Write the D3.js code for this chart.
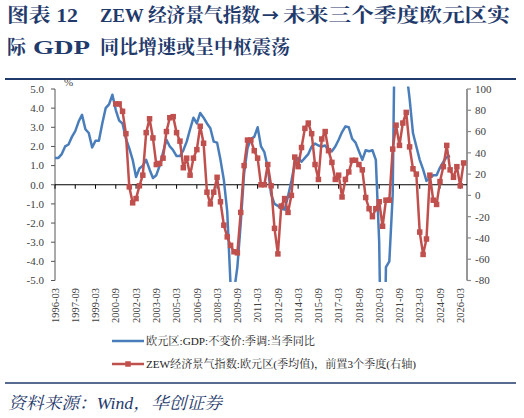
<!DOCTYPE html>
<html><head><meta charset="utf-8">
<script src="https://cdn.jsdelivr.net/npm/d3@7"></script>
<style>body{margin:0;background:#fff}svg{display:block}</style>
</head><body>
<svg id="c" width="524" height="418"></svg>
<script>
// ---- data ----
const axisStart = "1996-03";
const axisEnd = "2026-09";
const gdpStart = "1996-03";
const zewStart = "2000-09";
const gdpValues = [
 1.4,1.4,1.6,2.0, 2.1,2.5,2.8,3.3, 3.65,2.9,2.7,1.95, 2.3,2.3,3.2,4.0,
 4.2,4.7,3.9,3.35, 3.2,2.4,1.9,1.3, 0.4,0.85,1.0,1.3, 0.8,0.35,0.5,1.0,
 1.7,2.35,2.0,1.8, 1.5,1.5,1.8,2.25, 2.9,3.5,3.2,3.75, 3.5,3.2,2.95,2.25,
 2.2,1.3,0.25,-1.4, -5.3,-5.6,-4.3,-2.0, 0.6,1.9,2.4,2.5, 3.0,2.0,1.7,0.9,
 -0.5,-1.0,-1.1,-1.25, -1.3,-0.6,0.2,1.1, 1.4,1.2,1.4,1.6, 2.0,2.15,2.05,2.0,
 2.05,1.8,1.75,2.0, 2.35,2.75,3.05,3.0, 2.4,2.2,1.75,1.3, 1.8,1.75,1.8,1.3,
 -3.0,-14.5,-4.3,-4.0, -0.5,14.0,9.0,7.0, 6.0,4.5,2.7,2.0, 1.3,0.8,0.2,0.35,
 0.5,0.5,0.9,1.2, 1.45,1.5
];
const zewValues = [
 86,86, 79,58,8,-7, -3,9,19,59, 72,54,29,30, 35,60,73,74, 59,51,26,35,
 19,35,43,65, 49,3,-8,3, 17,-6,-28,-39, -47,-53,-54,-16, 28,52,52,42,
 35,10,10,29, 9,-31,-55,-10, -3,-16,0,36, 27,45,63,68, 58,29,15,53,
 60,42,31,15, 19,-1.5,15,22, 33,33,29,24, -2,-12.5,-20,-12.5, -6,-29,-4.5,-4.5,
 43.5,66,47,68, 78,45.6,25,20, -34.5,-55.5,-41,19, -4.5,-8.5,13,27, 47,24,17,27,
 9,30.5
];
const xTickLabels = ["1996-03","1997-09","1999-03","2000-09","2002-03","2003-09","2005-03",
 "2006-09","2008-03","2009-09","2011-03","2012-09","2014-03","2015-09","2017-03","2018-09",
 "2020-03","2021-09","2023-03","2024-09","2026-03"];
const leftTicks = [5,4,3,2,1,0,-1,-2,-3,-4,-5];
const rightTicks = [100,80,60,40,20,0,-20,-40,-60,-80];
const legendLabels = ["欧元区:GDP:不变价:季调:当季同比","ZEW经济景气指数:欧元区(季均值)，前置3个季度(右轴)"];
const titleParts = ["图表 12","ZEW 经济景气指数","→","未来三个季度欧元区实","际","GDP","同比增速或呈中枢震荡"];
const sourceText = "资料来源：Wind，华创证券";

// ---- helpers ----
const qIndex = s => { const [y,m] = s.split("-").map(Number); return (y-1996)*4 + (m/3-1); };
const navy = "#1f3a6b", blue = "#4a7ebb", red = "#c0504d";
const serif = "'Liberation Serif','Times New Roman','Noto Serif CJK SC','Noto Sans CJK SC',serif";

const svg = d3.select("#c");
const L = 55, R = 467, T = 89, B = 280.5;
const x = d3.scaleLinear().domain([qIndex(axisStart), qIndex(axisEnd)]).range([L, R]);
const yL = d3.scaleLinear().domain([-5,5]).range([B, T]);
const yR = d3.scaleLinear().domain([-80,100]).range([B, T]);

// ---- title ----
const tt = svg.append("g").attr("fill", navy).attr("font-family", serif).attr("font-weight","bold").attr("font-size",19);
tt.append("text").attr("x",7).attr("y",22).attr("textLength",71).attr("lengthAdjust","spacingAndGlyphs").text(titleParts[0]);
tt.append("text").attr("x",100).attr("y",22).attr("textLength",160).attr("lengthAdjust","spacingAndGlyphs").text(titleParts[1]);
tt.append("text").attr("x",262).attr("y",22).attr("font-family","'Noto Sans CJK SC',sans-serif").attr("font-size",17).text(titleParts[2]);
tt.append("text").attr("x",283).attr("y",22).attr("textLength",227).attr("lengthAdjust","spacingAndGlyphs").text(titleParts[3]);
tt.append("text").attr("x",7).attr("y",54).text(titleParts[4]);
tt.append("text").attr("x",33).attr("y",54).attr("textLength",57).attr("lengthAdjust","spacingAndGlyphs").text(titleParts[5]);
tt.append("text").attr("x",100).attr("y",54).attr("textLength",190).attr("lengthAdjust","spacingAndGlyphs").text(titleParts[6]);
svg.append("line").attr("x1",5).attr("x2",516).attr("y1",79).attr("y2",79).attr("stroke",navy).attr("stroke-width",2);

// ---- axes ----
const axisCol = "#404040";
svg.append("line").attr("x1",L).attr("x2",L).attr("y1",T).attr("y2",B).attr("stroke","#555").attr("stroke-width",1);
const lg = svg.append("g").attr("font-family",serif).attr("font-size",11).attr("fill",axisCol);
leftTicks.forEach(v => {
  svg.append("line").attr("x1",L-4).attr("x2",L).attr("y1",yL(v)).attr("y2",yL(v)).attr("stroke","#555");
  lg.append("text").attr("x",44).attr("y",yL(v)).attr("dy","0.35em").attr("text-anchor","end").text(v.toFixed(1));
});
lg.append("text").attr("x",64).attr("y",86).text("%");
svg.append("line").attr("x1",R).attr("x2",R).attr("y1",T).attr("y2",B).attr("stroke","#8c8c8c").attr("stroke-width",1.8);
rightTicks.forEach(v => {
  svg.append("line").attr("x1",R).attr("x2",R+4).attr("y1",yR(v)).attr("y2",yR(v)).attr("stroke","#8c8c8c").attr("stroke-width",1.2);
  lg.append("text").attr("x",475).attr("y",yR(v)).attr("dy","0.35em").attr("text-anchor","start").text(v);
});
const y0 = yL(0);
svg.append("line").attr("x1",L).attr("x2",R).attr("y1",y0).attr("y2",y0).attr("stroke","#000").attr("stroke-width",1);
xTickLabels.forEach(s => {
  const xx = x(qIndex(s));
  svg.append("line").attr("x1",xx).attr("x2",xx).attr("y1",y0).attr("y2",y0+4).attr("stroke","#000");
  lg.append("text").attr("transform",`translate(${xx},288) rotate(-90)`).attr("dy","0.35em")
    .attr("text-anchor","end").attr("font-size",10.5).text(s);
});

// ---- series ----
svg.append("clipPath").attr("id","clip").append("rect").attr("x",L).attr("y",T-2.5).attr("width",R-L).attr("height",B-T+4);
const g0 = qIndex(gdpStart), z0 = qIndex(zewStart);
const gdpLine = d3.line().x((d,i)=>x(g0+i)).y(d=>yL(d));
svg.append("path").attr("clip-path","url(#clip)").attr("d",gdpLine(gdpValues))
  .attr("fill","none").attr("stroke",blue).attr("stroke-width",2.5).attr("stroke-linejoin","round");
const zewLine = d3.line().x((d,i)=>x(z0+i)).y(d=>yR(d));
svg.append("path").attr("d",zewLine(zewValues)).attr("fill","none").attr("stroke",red).attr("stroke-width",2.5).attr("stroke-linejoin","round");
const ms = 5.5;
svg.append("g").selectAll("rect").data(zewValues).join("rect")
  .attr("x",(d,i)=>x(z0+i)-ms/2).attr("y",d=>yR(d)-ms/2).attr("width",ms).attr("height",ms).attr("fill",red);

// ---- legend ----
const leg = svg.append("g").attr("font-family",serif).attr("font-size",11).attr("fill","#222");
leg.append("line").attr("x1",112).attr("x2",144).attr("y1",341).attr("y2",341).attr("stroke",blue).attr("stroke-width",2.5);
leg.append("text").attr("x",146).attr("y",341).attr("dy","0.35em").attr("textLength",169).attr("lengthAdjust","spacingAndGlyphs").text(legendLabels[0]);
leg.append("line").attr("x1",112).attr("x2",144).attr("y1",364).attr("y2",364).attr("stroke",red).attr("stroke-width",2.5);
leg.append("rect").attr("x",128-ms/2).attr("y",364-ms/2).attr("width",ms).attr("height",ms).attr("fill",red);
leg.append("text").attr("x",146).attr("y",364).attr("dy","0.35em").attr("textLength",270).attr("lengthAdjust","spacingAndGlyphs").text(legendLabels[1]);

// ---- source ----
svg.append("line").attr("x1",5).attr("x2",516).attr("y1",383).attr("y2",383).attr("stroke",navy).attr("stroke-width",1.5);
svg.append("text").attr("x",8).attr("y",409).attr("fill",navy).attr("font-family",serif).attr("font-style","italic")
  .attr("font-size",17).attr("textLength",214).attr("lengthAdjust","spacingAndGlyphs").text(sourceText);
</script>
</body></html>
